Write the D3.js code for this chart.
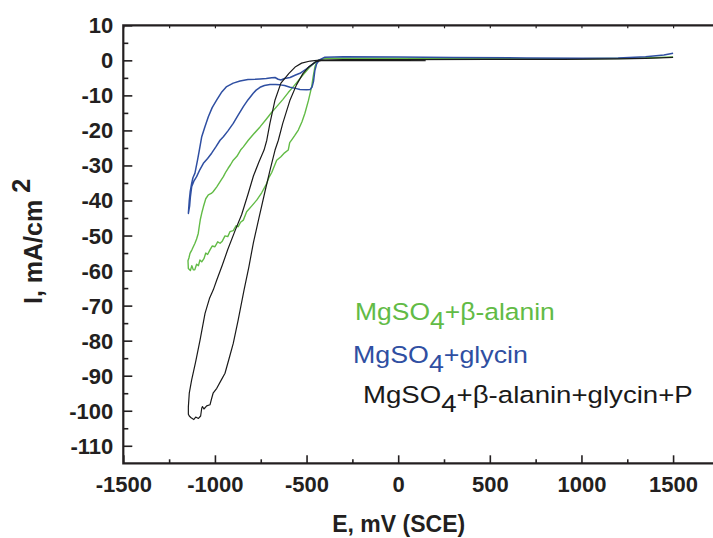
<!DOCTYPE html>
<html>
<head>
<meta charset="utf-8">
<script src="https://cdn.jsdelivr.net/npm/d3@7"></script>
<style>
  body { margin: 0; background: #fff; }
  svg text { font-family: "Liberation Sans", Arial, Helvetica, sans-serif; }
</style>
</head>
<body>
<svg id="chart" width="713" height="538"></svg>
<script>
// Axis ticks
const xMajorTicks = [-1500, -1000, -500, 0, 500, 1000, 1500];
const xMinorTicks = [-1250, -750, -250, 250, 750, 1250];
const xTopTicks = [-1500, -1250, -1000, -750, -500, -250, 0, 250, 500, 750, 1000, 1250, 1500];
const yMajorTicks = [10, 0, -10, -20, -30, -40, -50, -60, -70, -80, -90, -100, -110];
const yMinorTicks = [5, -5, -15, -25, -35, -45, -55, -65, -75, -85, -95, -105];

// Series names
const seriesNames = ["MgSO4+β-alanin", "MgSO4+glycin", "MgSO4+β-alanin+glycin+P"];

// Cyclic polarization curves: [E (mV vs SCE), I (mA/cm2)]
const alaninCurve = [
  [-430, 0.1], [-445, -0.5], [-455, -2], [-465, -5], [-472, -7.5], [-490, -11.5], [-509, -15.1],
  [-525, -17.5], [-545, -19.9], [-565, -21.5], [-581, -22.7], [-592, -23.5], [-600, -25.6],
  [-620, -26.4], [-640, -27.5], [-663, -28.5], [-690, -32], [-705, -33.4], [-717, -35.1],
  [-745, -37.8], [-772, -39.9], [-800, -41.6], [-827, -43.2], [-845, -45.6], [-860, -46.2],
  [-873, -47.5], [-885, -47.2], [-900, -48.6], [-918, -48.9], [-930, -50.3], [-945, -50.1],
  [-960, -51.6], [-972, -52.2], [-985, -51.8], [-1000, -53.2], [-1015, -53.0], [-1027, -54.1],
  [-1040, -55.4], [-1050, -55.0], [-1060, -56.6], [-1072, -57.5], [-1082, -57.0],
  [-1090, -58.6], [-1100, -58.2], [-1110, -59.8], [-1118, -59.8], [-1126, -58.6],
  [-1134, -60.0], [-1145, -59.4], [-1147, -57.2], [-1142, -56.4], [-1136, -55.1],
  [-1125, -54.0], [-1109, -52.2], [-1100, -51.0], [-1091, -49.4], [-1085, -47.2],
  [-1080, -45.5], [-1070, -43.2], [-1063, -41.8], [-1050, -39.5], [-1036, -38.4],
  [-1020, -38.0], [-1010, -37.5], [-990, -36.1], [-970, -34.5], [-954, -33.2],
  [-940, -31.8], [-928, -30.8], [-915, -29.8], [-900, -28.5], [-880, -27.4], [-860, -25.6],
  [-845, -24.7], [-818, -22.8], [-790, -21.1], [-754, -19], [-720, -16.8], [-690, -14.8],
  [-663, -13.2], [-630, -11.2], [-600, -9.2], [-572, -7.5], [-545, -5.8], [-520, -4.2],
  [-500, -3.0], [-480, -1.8], [-460, -0.8], [-445, -0.2], [-430, 0.1],
  [-400, 0.5], [-360, 0.6], [0, 0.6], [500, 0.5], [1000, 0.45], [1300, 0.6], [1420, 0.8], [1500, 1.0]
];

const glycinCurve = [
  [-430, 0.1], [-445, -1], [-455, -3], [-462, -6], [-470, -7.6], [-480, -8.3], [-500, -8.4],
  [-536, -8.3], [-560, -8.0], [-590, -7.7], [-620, -7.2], [-645, -7.0], [-670, -6.9],
  [-700, -6.9], [-730, -7.2], [-754, -7.7], [-775, -8.5], [-791, -9.4], [-820, -11.3],
  [-845, -13.2], [-875, -15.8], [-900, -18], [-930, -20.2], [-954, -21.8], [-972, -22.8],
  [-995, -24.7], [-1018, -26.5], [-1040, -28], [-1063, -29.4], [-1085, -31.5], [-1100, -33.2],
  [-1115, -34.5], [-1127, -36.1], [-1134, -39], [-1138, -41.5], [-1145, -43.7],
  [-1140, -40], [-1135, -37.5], [-1127, -35.1], [-1120, -33.5], [-1109, -32.2],
  [-1095, -28.5], [-1085, -25.6], [-1072, -21.8], [-1055, -19], [-1036, -16.1],
  [-1015, -13.5], [-990, -11.3], [-965, -9.2], [-936, -7.5], [-900, -6.5], [-863, -5.9],
  [-820, -5.5], [-780, -5.4], [-754, -5.3], [-720, -5.2], [-690, -5.0], [-672, -4.9],
  [-655, -5.4], [-640, -5.6], [-620, -5.2], [-590, -4.9], [-560, -4.2], [-536, -3.7],
  [-500, -2.4], [-470, -1.2], [-445, -0.3], [-430, 0.1],
  [-400, 0.9], [-300, 1.0], [0, 0.95], [300, 0.8], [700, 0.7], [1000, 0.6], [1200, 0.7],
  [1350, 1.0], [1450, 1.5], [1500, 2.0]
];

const mixCurve = [
  [150, -0.1], [0, -0.1], [-200, -0.1], [-350, -0.1], [-420, -0.1],
  [-450, -0.4], [-487, -1.8], [-520, -3.8], [-555, -7], [-590, -11.3], [-630, -18],
  [-654, -22.8], [-672, -25.6], [-700, -31.5], [-725, -37], [-760, -45], [-790, -52],
  [-815, -59], [-841, -65.5], [-873, -74.1], [-900, -80.8], [-920, -84.6], [-945, -89.3],
  [-965, -91.2], [-990, -93.6], [-1010, -95], [-1018, -96.5], [-1027, -98.3], [-1045, -98.6],
  [-1060, -99.5], [-1068, -98.8], [-1072, -99.3], [-1078, -101.5], [-1090, -102.2],
  [-1105, -101.8], [-1115, -102.5], [-1130, -102], [-1140, -101.5], [-1145, -101.0],
  [-1145, -98.9], [-1140, -95], [-1127, -91.2], [-1105, -86], [-1081, -79.8],
  [-1054, -72.2], [-1030, -68], [-1009, -65.5], [-990, -62.7], [-960, -58.5], [-930, -54],
  [-890, -48.6], [-854, -44], [-820, -38.3], [-790, -33], [-760, -29], [-732, -25.6],
  [-717, -22.8], [-700, -18], [-672, -11.3], [-640, -6.5], [-596, -3.7], [-560, -1.8],
  [-527, -0.8], [-480, -0.2], [-430, 0.1],
  [-300, 0.2], [0, 0.2], [500, 0.25], [900, 0.3], [1200, 0.4], [1350, 0.55], [1500, 0.85]
];

const seriesColors = ["#62bb46", "#2f4fa2", "#1a1a1a"];

const svg = d3.select("#chart");

const x = d3.scaleLinear().domain([-1500, 1750]).range([123.3, 718.9]);
const y = d3.scaleLinear().domain([-115, 10]).range([463.3, 25.3]);

const axisColor = "#231f20";

// Plot clip
svg.append("defs").append("clipPath").attr("id", "plotArea")
  .append("rect")
  .attr("x", x(-1500)).attr("y", y(10))
  .attr("width", x(1750) - x(-1500)).attr("height", y(-115) - y(10));

// Curves
const line = d3.line().x(d => x(d[0])).y(d => y(d[1]));
const curves = [alaninCurve, glycinCurve, mixCurve];
const widths = [1.4, 1.5, 1.2];
const plot = svg.append("g").attr("clip-path", "url(#plotArea)");
curves.forEach((c, i) => {
  plot.append("path")
    .datum(c)
    .attr("d", line)
    .attr("fill", "none")
    .attr("stroke", seriesColors[i])
    .attr("stroke-width", widths[i])
    .attr("stroke-linejoin", "round");
});

// Left axis: inward major and minor ticks
const yAxis = d3.axisLeft(y).tickValues(yMajorTicks).tickSizeInner(-9).tickSizeOuter(0)
  .tickPadding(10).tickFormat(d => String(d));
const gy = svg.append("g").attr("transform", `translate(${x(-1500)},0)`).call(yAxis);
gy.select(".domain").remove();
gy.selectAll(".tick line").attr("stroke", axisColor).attr("stroke-width", 1.6);
gy.selectAll(".tick text")
  .attr("fill", "#231f20").attr("font-size", 22).attr("font-weight", "bold")
  .attr("dy", "0.34em");

const yMinor = d3.axisLeft(y).tickValues(yMinorTicks).tickSizeInner(-5).tickSizeOuter(0).tickFormat("");
const gym = svg.append("g").attr("transform", `translate(${x(-1500)},0)`).call(yMinor);
gym.select(".domain").remove();
gym.selectAll(".tick line").attr("stroke", axisColor).attr("stroke-width", 1.6);

// Bottom axis: inward ticks
const xAxis = d3.axisBottom(x).tickValues(xMajorTicks).tickSizeInner(-8).tickSizeOuter(0)
  .tickPadding(13).tickFormat(d => String(d));
const gx = svg.append("g").attr("transform", `translate(0,${y(-115)})`).call(xAxis);
gx.select(".domain").remove();
gx.selectAll(".tick line").attr("stroke", axisColor).attr("stroke-width", 1.6);
gx.selectAll(".tick text")
  .attr("fill", "#231f20").attr("font-size", 22).attr("font-weight", "bold")
  .attr("dy", "0.71em");

const xMinor = d3.axisBottom(x).tickValues(xMinorTicks).tickSizeInner(-4).tickSizeOuter(0).tickFormat("");
const gxm = svg.append("g").attr("transform", `translate(0,${y(-115)})`).call(xMinor);
gxm.select(".domain").remove();
gxm.selectAll(".tick line").attr("stroke", axisColor).attr("stroke-width", 1.6);

// Top frame ticks
const xTop = d3.axisTop(x).tickValues(xTopTicks).tickSizeInner(-3).tickSizeOuter(0).tickFormat("");
const gxt = svg.append("g").attr("transform", `translate(0,${y(10)})`).call(xTop);
gxt.select(".domain").remove();
gxt.selectAll(".tick line").attr("stroke", axisColor).attr("stroke-width", 1.2);

// Frame lines
const frame = svg.append("g").attr("stroke", axisColor).attr("stroke-width", 2.2).attr("fill", "none");
frame.append("path").attr("d", `M${x(1750)},${y(10)}H${x(-1500)}V${y(-115)}H${x(1750)}`);

// Axis titles
svg.append("text")
  .attr("x", (x(-1500) + x(1500)) / 2 + 0.5)
  .attr("y", 532)
  .attr("text-anchor", "middle")
  .attr("font-size", 23).attr("font-weight", "bold").attr("fill", "#231f20")
  .text("E, mV (SCE)");

const yTitle = svg.append("text")
  .attr("transform", "translate(42,304) rotate(-90)")
  .attr("font-size", 25).attr("font-weight", "bold").attr("fill", "#231f20");
yTitle.append("tspan").text("I, mA/cm");
yTitle.append("tspan").attr("dx", 7).attr("dy", -12).text("2");

// Legend labels with subscript 4
const legendLayout = [
  { x: 355, y: 320, w: 200 },
  { x: 353, y: 362.5, w: 175 },
  { x: 363, y: 402.5, w: 330 }
];
seriesNames.forEach((name, i) => {
  const L = legendLayout[i];
  const t = svg.append("text")
    .attr("font-size", 23.5).attr("fill", seriesColors[i]);
  const parts = name.split("4");
  t.append("tspan").text(parts[0]);
  t.append("tspan").attr("dy", 9).text("4");
  t.append("tspan").attr("dy", -9).text(parts.slice(1).join("4"));
  const w = t.node().getComputedTextLength();
  t.attr("transform", `translate(${L.x},${L.y}) scale(${L.w / w},1)`);
});
</script>
</body>
</html>
